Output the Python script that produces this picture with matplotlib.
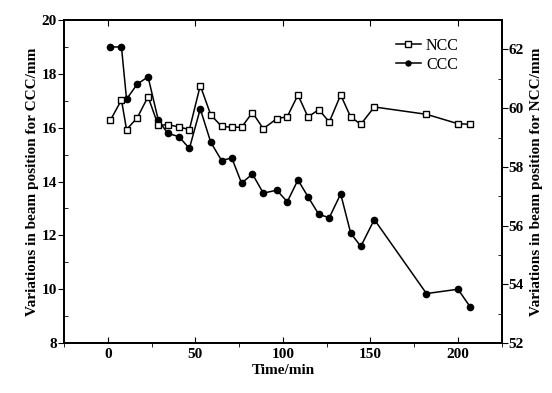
import matplotlib.pyplot as plt
from matplotlib.ticker import MultipleLocator

plt.rcParams['font.family'] = ['Liberation Serif', 'DejaVu Serif']

# time in minutes (shared by both series)
time_min = [1.5, 7.8, 10.7, 16.8, 23, 28.8, 34.2, 40.6, 46.6, 52.8, 58.8, 65, 70.8,
            76.4, 82.6, 88.8, 96.5, 102.5, 108.6, 114.3, 120.5, 126.5, 133,
            138.7, 144.5, 152.2, 182, 200, 207]
# CCC, left axis (mm)
ccc = [19.0, 19.0, 17.06, 17.62, 17.89, 16.29, 15.79, 15.67, 15.23, 16.7, 15.46,
       14.78, 14.88, 13.94, 14.28, 13.57, 13.68, 13.25, 14.06, 13.44, 12.78,
       12.66, 13.54, 12.09, 11.59, 12.59, 9.84, 10.0, 9.34]
# NCC, right axis (mm)
ncc = [59.59, 60.28, 59.27, 59.67, 60.39, 59.41, 59.44, 59.36, 59.27, 60.77, 59.77,
       59.38, 59.35, 59.35, 59.85, 59.3, 59.64, 59.71, 60.45, 59.7, 59.95,
       59.53, 60.45, 59.7, 59.45, 60.04, 59.79, 59.47, 59.45]

fig = plt.figure(figsize=(5.52, 3.93), dpi=100)
ax = fig.add_axes([0.116, 0.127, 0.793, 0.822])
ax2 = ax.twinx()

l2, = ax2.plot(time_min, ncc, color='black', lw=1.1, marker='s', ms=4.8,
               mfc='white', mec='black', mew=1.0, label='NCC')
l1, = ax.plot(time_min, ccc, color='black', lw=1.1, marker='o', ms=4.5,
              mfc='black', mec='black', label='CCC')

ax.set_xlim(-25, 225)
ax.set_ylim(8, 20)
ax2.set_ylim(52, 63)

ax.xaxis.set_major_locator(MultipleLocator(50))
ax.xaxis.set_minor_locator(MultipleLocator(25))
ax.yaxis.set_major_locator(MultipleLocator(2))
ax.yaxis.set_minor_locator(MultipleLocator(1))
ax2.yaxis.set_major_locator(MultipleLocator(2))
ax2.yaxis.set_minor_locator(MultipleLocator(1))

ax.tick_params(axis='x', which='major', direction='in', length=4, top=True, labelsize=11)
ax.tick_params(axis='x', which='minor', direction='out', length=3)
ax.tick_params(axis='y', which='major', direction='out', length=4, labelsize=11, pad=1)
ax.tick_params(axis='y', which='minor', direction='in', length=3)
ax2.tick_params(axis='y', which='major', direction='out', length=4, labelsize=11, pad=1)
ax2.tick_params(axis='y', which='minor', direction='in', length=3)

for a in (ax, ax2):
    for s in a.spines.values():
        s.set_linewidth(1.3)
    for lab in a.get_xticklabels() + a.get_yticklabels():
        lab.set_fontweight('bold')

ax.set_xlabel('Time/min', fontsize=11, fontweight='bold', labelpad=2)
ax.set_ylabel('Variations in beam position for CCC/mm', fontsize=11,
              fontweight='bold', labelpad=2)
ax2.set_ylabel('Variations in beam position for NCC/mm', fontsize=11,
               fontweight='bold', labelpad=4)

ax.legend([l2, l1], ['NCC', 'CCC'], loc='upper right', bbox_to_anchor=(0.935, 0.99),
          frameon=False, fontsize=11.5, handlelength=1.6, handletextpad=0.3,
          labelspacing=0.2, markerscale=0.8)

fig.savefig('out.png', dpi=100)
